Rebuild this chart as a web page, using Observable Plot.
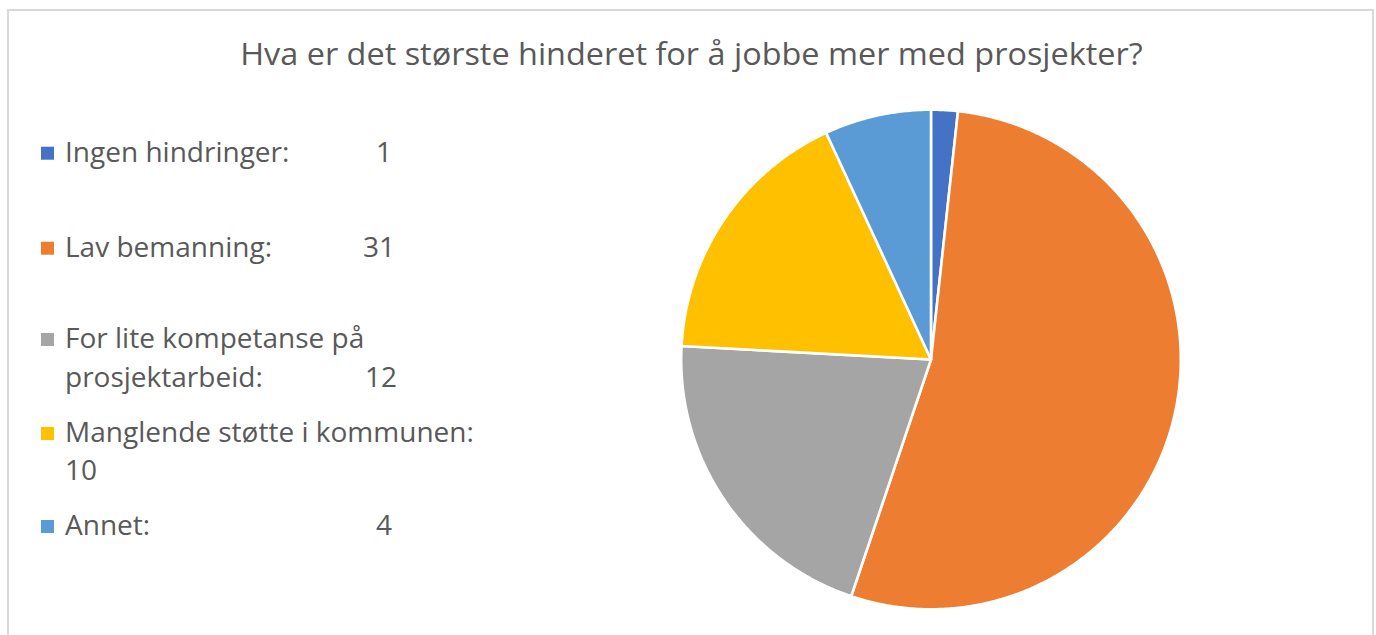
<!DOCTYPE html>
<html><head><meta charset="utf-8">
<script src="https://cdn.jsdelivr.net/npm/d3@7"></script>
<script src="https://cdn.jsdelivr.net/npm/@observablehq/plot@0.6"></script>
<style>
html,body{margin:0;padding:0;background:#fff;}
body{width:1376px;height:635px;overflow:hidden;position:relative;font-family:"Open Sans",sans-serif;color:#595959;}
#frame{position:absolute;left:7px;top:9px;width:1367px;height:700px;border:2px solid #d9d9d9;box-sizing:border-box;}
#legend{position:absolute;left:0;top:0;}
#pie{position:absolute;left:670px;top:100px;}
#titlebox{position:absolute;left:0;top:0;}
</style>
</head><body>
<div id="frame"></div>
<svg id="titlebox" width="1376" height="90"></svg>
<svg id="legend" width="560" height="635"></svg>
<div id="pie"></div>
<script>
// ---- data ----
const title = "Hva er det største hinderet for å jobbe mer med prosjekter?";
const categories = ["Ingen hindringer:", "Lav bemanning:", "For lite kompetanse på prosjektarbeid:", "Manglende støtte i kommunen:", "Annet:"];
const values = [1, 31, 12, 10, 4];
const colors = ["#4472C4", "#ED7D31", "#A5A5A5", "#FFC000", "#5B9BD5"];

// ---- legend layout (baselines, number position, wrap) ----
const legendLayout = [
  {base: [161.7], wrapAfter: null, numLine: 0, numX: 376},
  {base: [256.7], wrapAfter: null, numLine: 0, numX: 363},
  {base: [348, 387], wrapAfter: 4, numLine: 1, numX: 365},
  {base: [442, 480], wrapAfter: null, numLine: 1, numX: 65},
  {base: [535], wrapAfter: null, numLine: 0, numX: 376}
];

// ---- pie geometry from values ----
const total = d3.sum(values);
const pts = [];
let acc = 0;
categories.forEach((c, i) => {
  const a0 = acc / total * 2 * Math.PI;
  acc += values[i];
  const a1 = acc / total * 2 * Math.PI;
  const n = Math.max(2, Math.ceil((a1 - a0) / (Math.PI / 360)));
  pts.push({cat: c, x: 0, y: 0});
  for (let k = 0; k <= n; k++) {
    const a = a0 + (a1 - a0) * k / n;
    pts.push({cat: c, x: Math.sin(a), y: Math.cos(a)});
  }
  pts.push({cat: c, x: 0, y: 0});
});

const R = 249.8, cx = 260.5, cy = 259;
const chart = Plot.plot({
  width: 520, height: 520, margin: 0,
  x: {domain: [-1, 1], range: [cx - R, cx + R], axis: null},
  y: {domain: [-1, 1], range: [cy + R, cy - R], axis: null},
  color: {domain: categories, range: colors},
  marks: [
    Plot.line(pts, {x: "x", y: "y", z: "cat", fill: "cat", stroke: "white", strokeWidth: 2.6, strokeLinejoin: "round"})
  ]
});
document.getElementById("pie").appendChild(chart);

// ---- title ----
const tsvg = d3.select("#titlebox");
const tt = tsvg.append("text").text(title)
  .attr("font-family", "Open Sans").attr("font-size", 30.5).attr("fill", "#595959")
  .attr("text-anchor", "middle");
const tw = tt.node().getComputedTextLength();
const tsx = 903 / tw;
tt.attr("transform", `translate(691.5,65) scale(${tsx},1)`);

// ---- legend ----
const lsvg = d3.select("#legend");
const probe = lsvg.append("text").text(categories[3]).attr("font-family", "Open Sans").attr("font-size", 28);
const lsx = 409 / probe.node().getComputedTextLength();
probe.remove();

categories.forEach((c, i) => {
  const L = legendLayout[i];
  const words = c.split(" ");
  const lines = L.wrapAfter ? [words.slice(0, L.wrapAfter).join(" "), words.slice(L.wrapAfter).join(" ")] : [c];
  lsvg.append("rect").attr("x", 41).attr("y", L.base[0] - 15).attr("width", 13).attr("height", 13).attr("fill", colors[i]);
  lines.forEach((ln, j) => {
    lsvg.append("text").text(ln).attr("font-family", "Open Sans").attr("font-size", 28).attr("fill", "#595959")
      .attr("transform", `translate(65,${L.base[j]}) scale(${lsx},1)`);
  });
  lsvg.append("text").text(String(values[i])).attr("font-family", "Open Sans").attr("font-size", 28).attr("fill", "#595959")
    .attr("transform", `translate(${L.numX},${L.base[L.numLine]}) scale(${lsx},1)`);
});
</script>
</body></html>
